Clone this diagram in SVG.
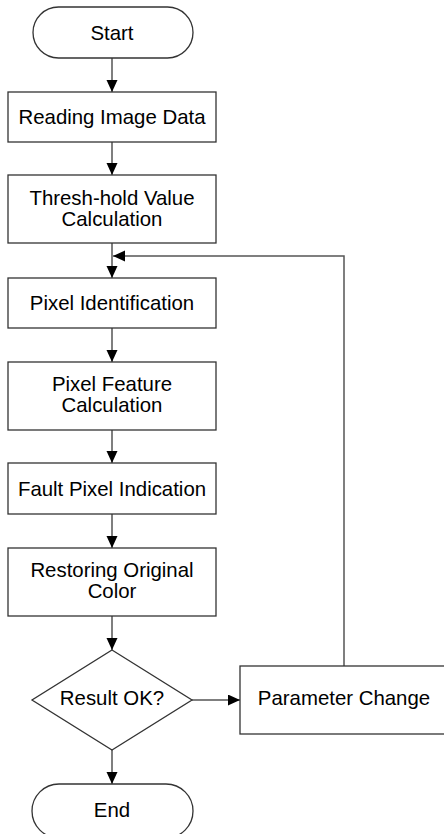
<svg xmlns="http://www.w3.org/2000/svg" width="444" height="834" viewBox="0 0 444 834">
<style>
.shape{fill:#fff;stroke:#333;stroke-width:1.3}
.conn{fill:none;stroke:#555;stroke-width:1.5}
text{font-family:"Liberation Sans",Arial,sans-serif;font-size:20.4px;fill:#000;text-anchor:middle}
</style>
<defs>
<marker id="ah" markerUnits="userSpaceOnUse" markerWidth="13" markerHeight="12" refX="12" refY="5.5" orient="auto">
<path d="M0,0 L12,5.5 L0,11 z" fill="#000"/>
</marker>
</defs>
<rect width="444" height="834" fill="#fff"/>
<g id="connectors">
<line class="conn" x1="112" y1="58" x2="112" y2="92" marker-end="url(#ah)"/>
<line class="conn" x1="112" y1="142" x2="112" y2="175" marker-end="url(#ah)"/>
<line class="conn" x1="112" y1="243" x2="112" y2="278" marker-end="url(#ah)"/>
<polyline class="conn" points="344,666 344,256 113,256" marker-end="url(#ah)"/>
<line class="conn" x1="112" y1="328" x2="112" y2="362" marker-end="url(#ah)"/>
<line class="conn" x1="112" y1="430" x2="112" y2="463" marker-end="url(#ah)"/>
<line class="conn" x1="112" y1="514" x2="112" y2="548" marker-end="url(#ah)"/>
<line class="conn" x1="112" y1="616" x2="112" y2="650" marker-end="url(#ah)"/>
<line class="conn" x1="192" y1="700" x2="240" y2="700" marker-end="url(#ah)"/>
<line class="conn" x1="112" y1="750" x2="112" y2="784" marker-end="url(#ah)"/>
</g>
<g id="start">
<rect class="shape" x="33" y="7" width="160" height="51" rx="25.5"/>
<text x="112" y="40">Start</text>
</g>
<g id="read">
<rect class="shape" x="8" y="92" width="208" height="50"/>
<text x="112" y="124">Reading Image Data</text>
</g>
<g id="thresh">
<rect class="shape" x="8" y="175" width="208" height="68"/>
<text x="112" y="205">Thresh-hold Value</text>
<text x="112" y="226">Calculation</text>
</g>
<g id="pixelid">
<rect class="shape" x="8" y="278" width="208" height="50"/>
<text x="112" y="310">Pixel Identification</text>
</g>
<g id="feature">
<rect class="shape" x="8" y="362" width="208" height="68"/>
<text x="112" y="391">Pixel Feature</text>
<text x="112" y="412">Calculation</text>
</g>
<g id="fault">
<rect class="shape" x="8" y="463" width="208" height="51"/>
<text x="112" y="496">Fault Pixel Indication</text>
</g>
<g id="restore">
<rect class="shape" x="8" y="548" width="208" height="68"/>
<text x="112" y="577">Restoring Original</text>
<text x="112" y="598">Color</text>
</g>
<g id="decision">
<polygon class="shape" points="112,650 192,700 112,750 32,700"/>
<text x="112" y="705">Result OK?</text>
</g>
<g id="param">
<rect class="shape" x="240" y="666" width="210" height="68"/>
<text x="344" y="705">Parameter Change</text>
</g>
<g id="end">
<rect class="shape" x="32" y="784" width="161" height="54" rx="27"/>
<text x="112" y="817">End</text>
</g>
</svg>
